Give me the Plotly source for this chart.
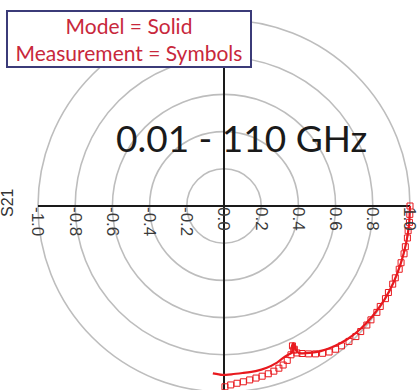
import plotly.graph_objects as go

# ---------------- data (S21, real / imaginary parts) ----------------
model_re = [1.000, 0.995, 0.978, 0.950, 0.912, 0.862, 0.800, 0.735, 0.665, 0.590,
            0.520, 0.460, 0.415, 0.395, 0.382, 0.376, 0.372, 0.366, 0.372, 0.362,
            0.345, 0.320, 0.280, 0.230, 0.170, 0.100, 0.040, -0.010, -0.060]
model_im = [0.000, -0.100, -0.205, -0.310, -0.410, -0.505, -0.590, -0.660, -0.715, -0.755,
            -0.780, -0.790, -0.792, -0.785, -0.765, -0.742, -0.738, -0.752, -0.772, -0.790,
            -0.800, -0.815, -0.845, -0.870, -0.888, -0.898, -0.905, -0.908, -0.900]

meas_re = [1.000, 0.999, 0.997, 0.990, 0.986, 0.975, 0.968, 0.952, 0.942, 0.921,
           0.907, 0.884, 0.868, 0.840, 0.822, 0.790, 0.768, 0.735, 0.709, 0.672,
           0.632, 0.600, 0.565, 0.530, 0.492, 0.455, 0.420, 0.392, 0.375, 0.368,
           0.378, 0.360, 0.340, 0.318, 0.295, 0.268, 0.238, 0.205, 0.172, 0.138,
           0.104, 0.070, 0.036, 0.005]
meas_im = [0.000, -0.045, -0.088, -0.133, -0.172, -0.219, -0.257, -0.305, -0.340, -0.386,
           -0.420, -0.465, -0.498, -0.540, -0.572, -0.612, -0.640, -0.675, -0.702, -0.728,
           -0.752, -0.770, -0.785, -0.792, -0.795, -0.795, -0.793, -0.790, -0.775, -0.752,
           -0.770, -0.800, -0.830, -0.855, -0.872, -0.888, -0.902, -0.915, -0.925, -0.935,
           -0.945, -0.953, -0.962, -0.972]

grid_radii = [0.2, 0.4, 0.6, 0.8, 1.0]
tick_vals = [-1.0, -0.8, -0.6, -0.4, -0.2, 0.0, 0.2, 0.4, 0.6, 0.8, 1.0]
tick_text = ["-1.0", "-0.8", "-0.6", "-0.4", "-0.2", "0.0", "0.2", "0.4", "0.6", "0.8", "1.0"]

RED = "#e8191e"

fig = go.Figure()
fig.add_trace(go.Scatter(x=meas_re, y=meas_im, mode="markers",
                         marker=dict(symbol="square-open", size=6, color=RED,
                                     line=dict(width=1, color=RED)),
                         name="Measurement", cliponaxis=False))
fig.add_trace(go.Scatter(x=model_re, y=model_im, mode="lines",
                         line=dict(color=RED, width=2.2, shape="spline", smoothing=0.6),
                         name="Model", cliponaxis=False))

shapes = []
for r in grid_radii:
    shapes.append(dict(type="circle", xref="x", yref="y", x0=-r, y0=-r, x1=r, y1=r,
                       line=dict(color="#bdbdbd", width=1.6), layer="below"))
shapes.append(dict(type="line", xref="x", yref="y", x0=-1, y0=0, x1=1, y1=0,
                   line=dict(color="#1a1a1a", width=2), layer="below"))
shapes.append(dict(type="line", xref="x", yref="y", x0=0, y0=-1, x1=0, y1=1,
                   line=dict(color="#1a1a1a", width=2), layer="below"))

# plot area spans x 34..414, y 16..390 (pixels); centre (224, 206)
PX = 186.0
x_half = 190 / PX
y_top = (206 - 16) / PX
y_bot = -(390 - 206) / PX
x_pos = (0 - y_bot) / (y_top - y_bot)


def px(xp):
    return (xp - 34) / 380.0


def py(yp):
    return 1 - (yp - 16) / 374.0


fig.update_layout(
    width=420, height=390,
    margin=dict(l=34, r=6, t=16, b=0, autoexpand=False),
    plot_bgcolor="white", paper_bgcolor="white",
    showlegend=False,
    shapes=shapes,
    xaxis=dict(range=[-x_half, x_half], showgrid=False, zeroline=False, showline=False,
               tickmode="array", tickvals=tick_vals, ticktext=tick_text,
               tickangle=90, ticks="", anchor="free", position=x_pos,
               tickfont=dict(family="Liberation Sans, Arial", size=17, color="#3a3a3a"),
               automargin=False),
    yaxis=dict(range=[y_bot, y_top], showgrid=False, zeroline=False, showline=False,
               showticklabels=False, ticks="", automargin=False),
    annotations=[
        dict(xref="paper", yref="paper", x=px(128.5), y=py(39),
             xanchor="center", yanchor="middle", showarrow=False,
             text="Model = Solid<br>Measurement = Symbols",
             font=dict(family="Lato, Open Sans", size=21, color="#c8283c"),
             bgcolor="white", bordercolor="#3b3b78", borderwidth=2, borderpad=1,
             width=240, height=52),
        dict(xref="paper", yref="paper", x=px(241), y=py(137),
             xanchor="center", yanchor="middle", showarrow=False,
             text="0.01 - 110 GHz",
             font=dict(family="Lato, Open Sans", size=37, color="#1a1a1a")),
        dict(xref="paper", yref="paper", x=px(7), y=py(203),
             xanchor="center", yanchor="middle", showarrow=False, textangle=-90,
             text="S21",
             font=dict(family="Liberation Sans, Arial", size=16, color="#333333")),
    ],
)

fig.write_html("out.html", config={"displayModeBar": False},
               post_script="document.body.style.margin='0';")
